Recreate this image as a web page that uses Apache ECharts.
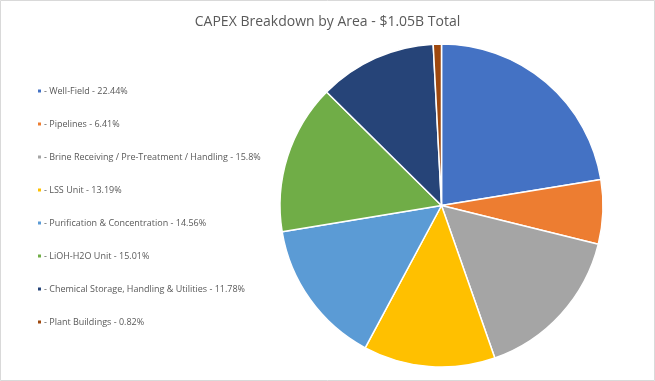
<!DOCTYPE html>
<html><head><meta charset="utf-8">
<script src="https://cdn.jsdelivr.net/npm/echarts@6/dist/echarts.min.js"></script>
<style>html,body{margin:0;padding:0;background:#fff}#c{width:655px;height:381px}</style>
</head><body><div id="c"></div>
<script>
const categories = ["Well-Field","Pipelines","Brine Receiving / Pre-Treatment / Handling","LSS Unit","Purification & Concentration","LiOH-H2O Unit","Chemical Storage, Handling & Utilities","Plant Buildings"];
const values = [22.44, 6.41, 15.8, 13.19, 14.56, 15.01, 11.78, 0.82];
const colors = ["#4472C4","#ED7D31","#A5A5A5","#FFC000","#5B9BD5","#70AD47","#264478","#9E480E"];
const titleText = "CAPEX Breakdown by Area - $1.05B Total";

const chart = echarts.init(document.getElementById('c'), null, {renderer:'canvas'});
const valMap = {};
categories.forEach((c,i)=>valMap[c]=values[i]);
chart.setOption({
  animation:false,
  backgroundColor:'#fff',
  color: colors,
  title:{text:titleText,left:'center',top:10,textStyle:{fontFamily:'Open Sans',fontSize:14,fontWeight:'normal',color:'#595959'}},
  graphic:[{type:'rect',shape:{x:0.5,y:0.5,width:654,height:380},style:{fill:'none',stroke:'#d9d9d9',lineWidth:1}}],
  legend:{orient:'vertical',left:31,top:80,icon:'rect',itemWidth:5,itemHeight:5,itemGap:21,
    textStyle:{fontFamily:'Open Sans',fontSize:9,color:'#595959',lineHeight:12,padding:[0,0,0,-3]},
    formatter:n=>'- '+n+' - '+valMap[n]+'%'},
  series:[{type:'pie',center:[441.5,205.5],radius:[0,161.5],startAngle:90,clockwise:true,
    label:{show:false},labelLine:{show:false},
    itemStyle:{borderColor:'#fff',borderWidth:1.5},
    emphasis:{disabled:true},
    data:categories.map((c,i)=>({name:c,value:values[i]}))}]
});
</script></body></html>
